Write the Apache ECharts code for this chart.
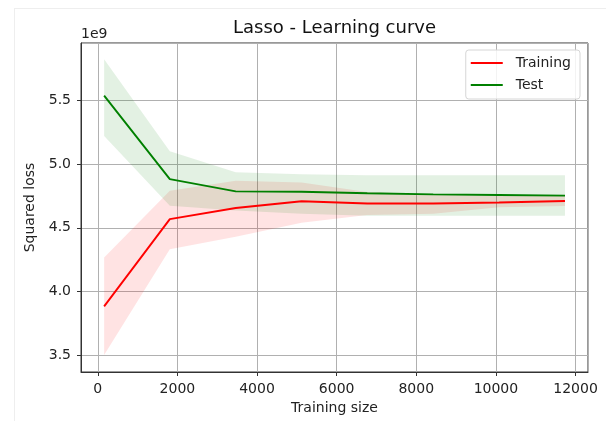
<!DOCTYPE html>
<html>
<head>
<meta charset="utf-8">
<script src="https://cdn.jsdelivr.net/npm/echarts@6/dist/echarts.min.js"></script>
<style>
html,body{margin:0;padding:0;background:#fff;}
#chart{width:606px;height:421px;}
</style>
</head>
<body>
<div id="chart"></div>
<script>
// Data (squared loss, absolute units)
var trainSizes = [160, 1810, 3465, 5120, 6770, 8425, 10080, 11735];
var trainMean  = [3.885e9, 4.568e9, 4.655e9, 4.708e9, 4.690e9, 4.690e9, 4.698e9, 4.710e9];
var trainUpper = [4.268e9, 4.790e9, 4.868e9, 4.855e9, 4.780e9, 4.760e9, 4.750e9, 4.750e9];
var trainLower = [3.505e9, 4.333e9, 4.430e9, 4.540e9, 4.600e9, 4.610e9, 4.660e9, 4.670e9];
var testMean   = [5.534e9, 4.881e9, 4.785e9, 4.782e9, 4.770e9, 4.762e9, 4.757e9, 4.752e9];
var testUpper  = [5.818e9, 5.100e9, 4.935e9, 4.920e9, 4.912e9, 4.912e9, 4.912e9, 4.912e9];
var testLower  = [5.218e9, 4.672e9, 4.635e9, 4.610e9, 4.595e9, 4.595e9, 4.595e9, 4.595e9];
var seriesNames = ['Training', 'Test'];
var titleText = 'Lasso - Learning curve';
var xLabel = 'Training size';
var yLabel = 'Squared loss';
var offsetText = '1e9';

function pairs(ys) { return trainSizes.map(function (x, i) { return [x, ys[i]]; }); }
function triples(lo, hi) { return trainSizes.map(function (x, i) { return [x, lo[i], hi[i]]; }); }

var FONT = 'DejaVu Sans';
var chart = echarts.init(document.getElementById('chart'), null, {renderer: 'canvas'});

// fill_between band drawn as one polygon via the cartesian coordinate system
function band(name, data, color) {
  return {
    name: name, type: 'custom', data: data, silent: true, z: 1,
    encode: {x: 0, y: [1, 2]},
    renderItem: function (params, api) {
      if (params.dataIndex !== 0) return null;
      var pts = [];
      for (var i = 0; i < data.length; i++) pts.push(api.coord([data[i][0], data[i][2]]));
      for (var j = data.length - 1; j >= 0; j--) pts.push(api.coord([data[j][0], data[j][1]]));
      return {type: 'polygon', shape: {points: pts}, style: {fill: color, stroke: null}};
    }
  };
}

var option = {
  animation: false,
  backgroundColor: '#ffffff',
  grid: {left: 81, right: 18, top: 43, bottom: 49, show: true, borderColor: '#333333', borderWidth: 1, backgroundColor: 'transparent'},
  xAxis: {
    type: 'value', min: -421, max: 12313, splitNumber: 6, minInterval: 2000, maxInterval: 2000,
    name: xLabel, nameLocation: 'middle', nameGap: 29,
    nameTextStyle: {fontFamily: FONT, fontSize: 14, color: '#222'},
    axisLine: {show: true, onZero: false, lineStyle: {color: '#333', width: 1}},
    axisTick: {show: true, length: 4, lineStyle: {color: '#333'}},
    axisLabel: {fontFamily: FONT, fontSize: 14, color: '#222', margin: 10, showMinLabel: false, showMaxLabel: false,
      formatter: function (v) { return String(v); }},
    splitLine: {show: true, lineStyle: {color: '#b0b0b0', width: 1}}
  },
  yAxis: {
    type: 'value', min: 3.372e9, max: 5.946e9, splitNumber: 5, minInterval: 0.5e9, maxInterval: 0.5e9,
    name: yLabel, nameLocation: 'middle', nameGap: 44, nameRotate: 90,
    nameTextStyle: {fontFamily: FONT, fontSize: 14, color: '#222'},
    axisLine: {show: true, onZero: false, lineStyle: {color: '#333', width: 1}},
    axisTick: {show: true, length: 4, lineStyle: {color: '#333'}},
    axisLabel: {fontFamily: FONT, fontSize: 14, color: '#222', margin: 10, showMinLabel: false, showMaxLabel: false,
      formatter: function (v) { return (v / 1e9).toFixed(1); }},
    splitLine: {show: true, lineStyle: {color: '#b0b0b0', width: 1}}
  },
  legend: {
    data: seriesNames, orient: 'vertical', right: 26, top: 50,
    itemWidth: 32, itemHeight: 14, itemGap: 8, padding: [6, 9, 7, 5],
    backgroundColor: 'rgba(255,255,255,0.85)', borderColor: '#d6d6d6', borderWidth: 1, borderRadius: 3,
    textStyle: {fontFamily: FONT, fontSize: 14, color: '#222', padding: [0, 0, 0, 8]},
    icon: 'path://M0,0 L32,0 L32,2 L0,2 Z'
  },
  graphic: [
    {type: 'line', shape: {x1: 14, y1: 8.5, x2: 606, y2: 8.5}, style: {stroke: '#eeeeee', lineWidth: 1}, silent: true},
    {type: 'line', shape: {x1: 14.5, y1: 8, x2: 14.5, y2: 421}, style: {stroke: '#eeeeee', lineWidth: 1}, silent: true},
    {type: 'text', x: 334.5, y: 28.5, style: {text: titleText, align: 'center', verticalAlign: 'middle', font: '18px "DejaVu Sans"', fill: '#111'}},
    {type: 'text', x: 81, y: 34, style: {text: offsetText, align: 'left', verticalAlign: 'middle', font: '14px "DejaVu Sans"', fill: '#222'}}
  ],
  series: [
    band('trainBand', triples(trainLower, trainUpper), 'rgba(255,0,0,0.11)'),
    band('testBand', triples(testLower, testUpper), 'rgba(0,128,0,0.11)'),
    {name: seriesNames[0], type: 'line', data: pairs(trainMean), symbol: 'none', color: '#ff0000',
     lineStyle: {color: '#ff0000', width: 1.9}, z: 3},
    {name: seriesNames[1], type: 'line', data: pairs(testMean), symbol: 'none', color: '#008000',
     lineStyle: {color: '#008000', width: 1.9}, z: 3}
  ]
};
chart.setOption(option);
</script>
</body>
</html>
